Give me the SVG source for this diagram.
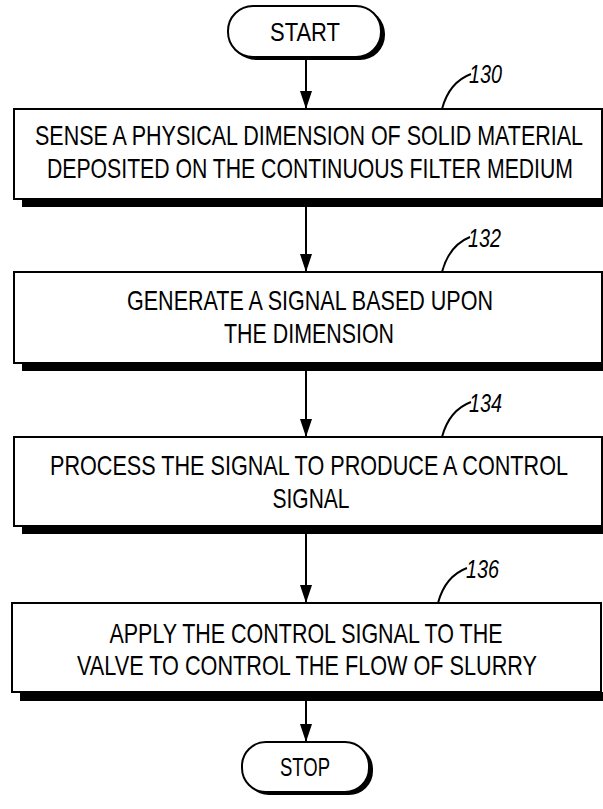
<svg xmlns="http://www.w3.org/2000/svg" width="603" height="809" viewBox="0 0 603 809">
<defs>
<style>
.box{fill:#fff;stroke:#000;stroke-width:2}
.sh{fill:#000}
.t{font-family:"Liberation Sans",Arial,sans-serif;font-size:28px;fill:#000;text-anchor:middle}
.term{font-family:"Liberation Sans",Arial,sans-serif;font-size:25px;fill:#000;text-anchor:middle}
.lbl{font-family:"Liberation Sans",Arial,sans-serif;font-size:25px;font-style:italic;fill:#000}
.ld{fill:none;stroke:#000;stroke-width:2}
.ar{stroke:#000;stroke-width:2;fill:none}
</style>
<marker id="ah" markerWidth="18" markerHeight="12" refX="18" refY="6" orient="auto" markerUnits="userSpaceOnUse" viewBox="0 0 18 12">
<path d="M0,0 L18,6 L0,12 Z" fill="#000"/>
</marker>
</defs>
<rect width="603" height="809" fill="#fff"/>

<g id="connectors">
<line class="ar" x1="306" y1="58" x2="306" y2="109" marker-end="url(#ah)"/>
<line class="ar" x1="306" y1="207" x2="306" y2="272" marker-end="url(#ah)"/>
<line class="ar" x1="306" y1="371" x2="306" y2="437" marker-end="url(#ah)"/>
<line class="ar" x1="306" y1="534" x2="306" y2="603" marker-end="url(#ah)"/>
<line class="ar" x1="306" y1="701" x2="306" y2="742" marker-end="url(#ah)"/>
</g>

<g id="start">
<rect x="231" y="9" width="154" height="51" rx="25" ry="25" class="sh"/>
<rect x="228" y="6" width="153" height="51" rx="25" ry="25" class="box"/>
<text x="305" y="41" class="term" textLength="70" lengthAdjust="spacingAndGlyphs">START</text>
</g>

<g id="n130">
<rect x="22" y="199" width="581" height="8" class="sh"/>
<rect x="14" y="109" width="588" height="90" class="box"/>
<text x="309" y="145" class="t" textLength="548" lengthAdjust="spacingAndGlyphs">SENSE A PHYSICAL DIMENSION OF SOLID MATERIAL</text>
<text x="310" y="178" class="t" textLength="526" lengthAdjust="spacingAndGlyphs">DEPOSITED ON THE CONTINUOUS FILTER MEDIUM</text>
<path class="ld" d="M442,109 C446,94 455,80 471,74"/>
<text x="469" y="83" class="lbl" textLength="33" lengthAdjust="spacingAndGlyphs">130</text>
</g>

<g id="n132">
<rect x="22" y="363" width="581" height="8" class="sh"/>
<rect x="14" y="272" width="588" height="91" class="box"/>
<text x="310" y="310" class="t" textLength="366" lengthAdjust="spacingAndGlyphs">GENERATE A SIGNAL BASED UPON</text>
<text x="309" y="343" class="t" textLength="170" lengthAdjust="spacingAndGlyphs">THE DIMENSION</text>
<path class="ld" d="M442,272 C446,257 455,243 470,237"/>
<text x="468" y="247" class="lbl" textLength="33" lengthAdjust="spacingAndGlyphs">132</text>
</g>

<g id="n134">
<rect x="22" y="526" width="581" height="8" class="sh"/>
<rect x="14" y="437" width="588" height="89" class="box"/>
<text x="309" y="475" class="t" textLength="518" lengthAdjust="spacingAndGlyphs">PROCESS THE SIGNAL TO PRODUCE A CONTROL</text>
<text x="311" y="508" class="t" textLength="77" lengthAdjust="spacingAndGlyphs">SIGNAL</text>
<path class="ld" d="M442,437 C446,422 455,408 471,402"/>
<text x="469" y="412" class="lbl" textLength="33" lengthAdjust="spacingAndGlyphs">134</text>
</g>

<g id="n136">
<rect x="20" y="692" width="583" height="9" class="sh"/>
<rect x="12" y="603" width="589" height="89" class="box"/>
<text x="306" y="643" class="t" textLength="393" lengthAdjust="spacingAndGlyphs">APPLY THE CONTROL SIGNAL TO THE</text>
<text x="307" y="675" class="t" textLength="460" lengthAdjust="spacingAndGlyphs">VALVE TO CONTROL THE FLOW OF SLURRY</text>
<path class="ld" d="M438,603 C442,588 451,574 467,568"/>
<text x="466" y="578" class="lbl" textLength="33" lengthAdjust="spacingAndGlyphs">136</text>
</g>

<g id="stop">
<rect x="245" y="745" width="128" height="50" rx="24" ry="24" class="sh"/>
<rect x="242" y="742" width="127" height="50" rx="24" ry="24" class="box"/>
<text x="305" y="776" class="term" textLength="50" lengthAdjust="spacingAndGlyphs">STOP</text>
</g>
</svg>
